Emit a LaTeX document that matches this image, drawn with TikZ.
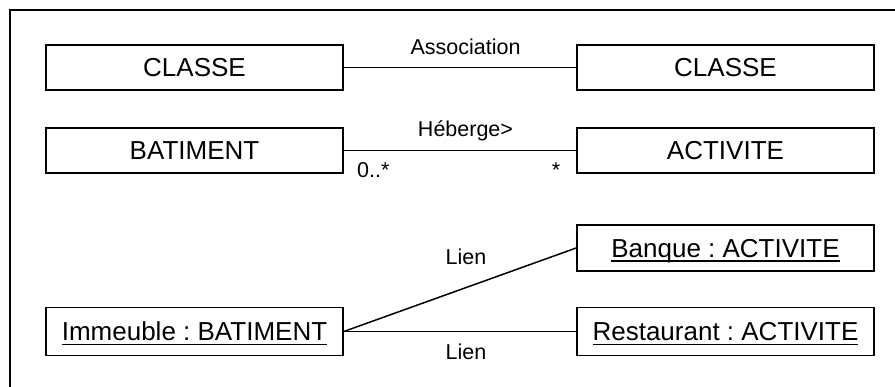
\documentclass[tikz,border=0pt]{standalone}
\usepackage{fontspec}
\setmainfont{Liberation Sans}
\frenchspacing
\newcommand\myul[1]{\leavevmode\setbox0\hbox{#1}\rlap{\rule[-4.4pt]{\wd0}{1.4pt}}\box0}
\begin{document}
\begin{tikzpicture}[x=1pt,y=-1pt,
  umlbox/.style={draw=black,line width=1.7pt,minimum width=297pt,minimum height=45pt,
    inner sep=0pt,text height=18.6pt,text depth=0pt,font=\fontsize{26}{30}\selectfont},
  objbox/.style={umlbox,minimum height=48pt},
  lbl/.style={inner sep=0pt,anchor=base,font=\fontsize{21.5}{26}\selectfont},
  conn/.style={line width=1.5pt}]
\useasboundingbox (0,0) rectangle (895,387);
\draw[line width=2.3pt] (10,388) -- (10,10) -- (896,10);
\node[umlbox] (c1) at (194.5,67.5) {CLASSE};
\node[umlbox] (c2) at (725.5,67.5) {CLASSE};
\node[umlbox] (bat) at (194.5,150.5) {BATIMENT};
\node[umlbox] (act) at (725.5,150.5) {ACTIVITE};
\node[umlbox,minimum height=46pt] (banque) at (725.5,248) {\myul{Banque : ACTIVITE}};
\node[objbox] (imm) at (194.5,331.5) {\myul{Immeuble : BATIMENT}};
\node[objbox] (resto) at (725.5,331.5) {\myul{Restaurant : ACTIVITE}};
\draw[conn] (c1) -- (c2);
\draw[conn] (bat) -- (act);
\draw[conn] (imm.east) -- (banque.west);
\draw[conn] (imm.east) -- (resto.west);
\node[lbl] (lassoc) at (465.5,55) {Association};
\node[lbl] (lheb) at (465.5,137) {Héberge>};
\node[lbl,anchor=base west] (m1) at (357,178) {0..*};
\node[lbl] (m2) at (556,178) {*};
\node[lbl] (lien1) at (466,265) {Lien};
\node[lbl] (lien2) at (466,360) {Lien};
\end{tikzpicture}
\end{document}
